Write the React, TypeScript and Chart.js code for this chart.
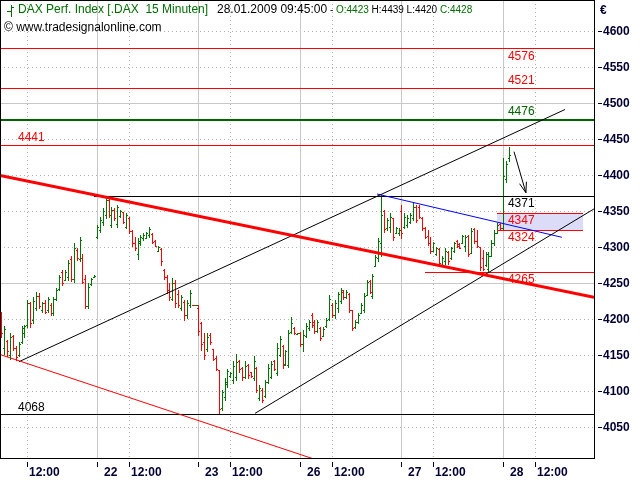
import React, { useEffect, useRef } from "react";
import { Chart, registerables } from "chart.js";

Chart.register(...registerables);

// ---------- data ----------
const DAY_LABELS = ["21", "22", "23", "26", "27", "28"];
const TIME_LABEL = "12:00";
const BARS_PER_DAY = 35; // 15-minute bars 09:15 .. 17:45
const NOON_BAR = 11; // bar index of 12:00 within a day
const FIRST_BAR_21 = 2; // first visible bar on 21 Jan

// [open, high, low, close]
const D21 = [
  [4208, 4210, 4175, 4180], [4160, 4190, 4152, 4186], [4170, 4171, 4148, 4155], [4150, 4180, 4145, 4175],
  [4176, 4178, 4157, 4160], [4160, 4162, 4143, 4147], [4150, 4168, 4148, 4165], [4168, 4190, 4166, 4188],
  [4180, 4192, 4175, 4190], [4192, 4226, 4189, 4222], [4222, 4224, 4189, 4195], [4198, 4231, 4194, 4225],
  [4215, 4238, 4213, 4232], [4232, 4236, 4215, 4218], [4212, 4224, 4210, 4222], [4222, 4226, 4208, 4210],
  [4212, 4231, 4210, 4228], [4220, 4222, 4206, 4208], [4208, 4231, 4206, 4228], [4228, 4243, 4226, 4240],
  [4242, 4261, 4240, 4258], [4265, 4268, 4247, 4250], [4254, 4268, 4254, 4265], [4258, 4282, 4254, 4278],
  [4284, 4287, 4253, 4256], [4256, 4305, 4252, 4298], [4296, 4298, 4282, 4285], [4284, 4314, 4280, 4310],
  [4285, 4290, 4250, 4252], [4255, 4261, 4215, 4218], [4218, 4250, 4215, 4245], [4248, 4257, 4247, 4255],
  [4259, 4261, 4259, 4260],
];
const D22 = [
  [4314, 4331, 4312, 4328], [4324, 4342, 4321, 4338], [4335, 4354, 4331, 4350], [4345, 4370, 4340, 4365],
  [4365, 4367, 4342, 4345], [4330, 4356, 4328, 4352], [4352, 4354, 4338, 4340], [4332, 4358, 4328, 4355],
  [4343, 4351, 4342, 4350], [4348, 4349, 4333, 4335], [4328, 4347, 4326, 4344], [4340, 4342, 4319, 4322],
  [4322, 4324, 4301, 4305], [4305, 4314, 4296, 4298], [4290, 4312, 4284, 4308], [4305, 4317, 4303, 4314],
  [4312, 4319, 4310, 4317], [4313, 4321, 4312, 4319], [4316, 4328, 4314, 4325], [4318, 4319, 4305, 4307],
  [4308, 4310, 4301, 4302], [4295, 4301, 4294, 4300], [4297, 4298, 4275, 4280], [4268, 4270, 4256, 4258],
  [4258, 4261, 4236, 4240], [4240, 4250, 4226, 4230], [4228, 4257, 4226, 4250], [4250, 4254, 4217, 4222],
  [4235, 4240, 4217, 4220], [4215, 4233, 4213, 4230], [4224, 4226, 4199, 4205], [4205, 4226, 4201, 4222],
  [4220, 4240, 4217, 4236], [4220, 4220, 4219, 4219], [4219, 4220, 4219, 4219],
];
const D23 = [
  [4215, 4219, 4178, 4183], [4195, 4196, 4157, 4165], [4168, 4180, 4145, 4150], [4158, 4180, 4155, 4175],
  [4178, 4180, 4165, 4168], [4158, 4159, 4143, 4145], [4146, 4148, 4129, 4131], [4129, 4129, 4069, 4075],
  [4076, 4101, 4074, 4098], [4092, 4118, 4088, 4112], [4110, 4131, 4106, 4128], [4121, 4127, 4120, 4125],
  [4115, 4141, 4111, 4135], [4120, 4152, 4115, 4140], [4141, 4143, 4127, 4130], [4132, 4134, 4115, 4120],
  [4120, 4141, 4118, 4135], [4136, 4138, 4118, 4122], [4126, 4127, 4120, 4121], [4118, 4148, 4115, 4142],
  [4132, 4134, 4099, 4102], [4090, 4108, 4088, 4104], [4102, 4104, 4085, 4088], [4093, 4115, 4092, 4112],
  [4113, 4138, 4111, 4132], [4120, 4141, 4118, 4138], [4141, 4143, 4129, 4131], [4125, 4166, 4122, 4160],
  [4150, 4176, 4148, 4172], [4162, 4164, 4132, 4136], [4138, 4157, 4136, 4155], [4136, 4185, 4134, 4180],
  [4182, 4203, 4180, 4195], [4188, 4189, 4179, 4180], [4179, 4180, 4179, 4180],
];
const D26 = [
  [4180, 4182, 4162, 4165], [4165, 4185, 4155, 4178], [4176, 4194, 4175, 4190], [4188, 4199, 4185, 4196],
  [4205, 4208, 4189, 4192], [4196, 4199, 4180, 4184], [4184, 4199, 4182, 4196], [4188, 4189, 4171, 4174],
  [4177, 4189, 4176, 4186], [4190, 4201, 4189, 4199], [4200, 4233, 4199, 4228], [4220, 4222, 4203, 4205],
  [4205, 4226, 4202, 4222], [4215, 4238, 4210, 4235], [4225, 4243, 4222, 4240], [4238, 4240, 4228, 4230],
  [4230, 4240, 4229, 4238], [4235, 4236, 4210, 4212], [4212, 4213, 4185, 4188], [4189, 4199, 4187, 4196],
  [4196, 4208, 4194, 4205], [4208, 4222, 4208, 4220], [4212, 4236, 4210, 4232], [4234, 4254, 4233, 4252],
  [4253, 4254, 4236, 4238], [4232, 4263, 4229, 4260], [4274, 4289, 4273, 4286], [4285, 4312, 4280, 4308],
  [4305, 4372, 4287, 4345], [4350, 4352, 4321, 4325], [4326, 4340, 4324, 4338], [4328, 4347, 4321, 4342],
  [4340, 4340, 4310, 4314], [4320, 4328, 4319, 4326], [4319, 4326, 4317, 4324],
];
const D27 = [
  [4350, 4358, 4312, 4320], [4328, 4347, 4326, 4342], [4330, 4345, 4328, 4340], [4335, 4347, 4333, 4345],
  [4340, 4361, 4338, 4356], [4356, 4358, 4335, 4338], [4355, 4358, 4340, 4342], [4340, 4342, 4324, 4326],
  [4327, 4328, 4312, 4314], [4315, 4324, 4303, 4305], [4306, 4314, 4291, 4294], [4295, 4307, 4294, 4305],
  [4290, 4300, 4289, 4298], [4297, 4298, 4275, 4278], [4275, 4287, 4273, 4285], [4280, 4298, 4277, 4295],
  [4293, 4294, 4277, 4280], [4285, 4300, 4284, 4298], [4295, 4307, 4293, 4305], [4308, 4310, 4300, 4302],
  [4304, 4305, 4298, 4299], [4306, 4317, 4305, 4315], [4302, 4317, 4294, 4314], [4315, 4317, 4287, 4290],
  [4292, 4326, 4291, 4322], [4325, 4326, 4305, 4308], [4308, 4324, 4300, 4302], [4300, 4300, 4268, 4272],
  [4285, 4296, 4268, 4270], [4275, 4293, 4273, 4290], [4270, 4293, 4266, 4288], [4288, 4310, 4287, 4306],
  [4305, 4324, 4303, 4320], [4320, 4333, 4319, 4330], [4332, 4333, 4324, 4326],
];
const D28 = [
  [4326, 4423, 4324, 4398], [4395, 4419, 4390, 4415], [4423, 4439, 4420, 4428],
];
const DAY_BARS = [D21, D22, D23, D26, D27, D28];

const Y_TICKS = [4050, 4100, 4150, 4200, 4250, 4300, 4350, 4400, 4450, 4500, 4550, 4600];
const X_MIN = 1.552;
const X_MAX = 206.38;
const Y_MIN = 4006.94;
const Y_MAX = 4643.06;

// horizontal levels: value and the bar index where the line begins
const LEVEL_VALUES = [4576, 4521, 4476, 4441, 4371, 4265, 4068];
const LEVEL_START = [X_MIN, X_MIN, X_MIN, X_MIN, 33.97, 148.1, X_MIN];
const BOX_VALUES = [4347, 4324];
const BOX_RANGE = [172.9, 202.6];

// trend lines [bar index, price]
const TREND_MAIN = [[1.552, 4399.3], [206.38, 4230.1]];
const TREND_LOWER = [[1.552, 4150.7], [113.9, 4000]];
const CHANNEL_UPPER = [[8.1, 4140.7], [196.4, 4491]];
const CHANNEL_LOWER = [[89.5, 4069], [206.38, 4352.9]];
const RESIST_BLUE = [[131.55, 4373.6], [195.3, 4313.5]];
const ARROW = [[178.8, 4432.4], [182.9, 4375.4]];

const SYMBOL_NAME = "DAX Perf. Index [.DAX  15 Minuten]";
const TIMESTAMP = "28.01.2009 09:45:00";
const COPYRIGHT = "\u00a9 www.tradesignalonline.com";
const CURRENCY = "\u20ac";

// ---------- styles ----------
const FONT = "'Liberation Sans', Arial, sans-serif";
const BAR_GREEN = "#007400";
const BAR_RED = "#ff0000";
const TXT_GREEN = "#006e00";
const AXIS_TXT = "#000033";
const LEVEL_STYLE = [
  { color: "#ff0000", width: 1, label: "right", dy: 8 },
  { color: "#ff0000", width: 1, label: "right", dy: -8 },
  { color: "#006400", width: 2, label: "right", dy: -9, text: "#006400" },
  { color: "#ff0000", width: 1, label: "left", dy: -8 },
  { color: "#000000", width: 1, label: "right", dy: 7 },
  { color: "#ff0000", width: 1, label: "right", dy: 7 },
  { color: "#000000", width: 1, label: "left", dy: -7 },
];
const BOX_STYLE = { fill: "#dcdcf8", color: "#ff0000", dy: [7, 7] };

const barIndex = (d: number, k: number) => d * BARS_PER_DAY + (d === 0 ? FIRST_BAR_21 : 0) + k;

const decor = {
  id: "decor",
  beforeDatasetsDraw(chart: any) {
    const { ctx, chartArea: a, scales } = chart;
    const xs = scales.x;
    const ys = scales.y;
    ctx.save();
    ctx.beginPath();
    ctx.rect(a.left, a.top, a.right - a.left, a.bottom - a.top);
    ctx.clip();

    // grid
    ctx.lineWidth = 1;
    Y_TICKS.forEach((v) => {
      const py = Math.round(ys.getPixelForValue(v)) + 0.5;
      const solid = v % 250 === 0;
      ctx.strokeStyle = solid ? "#c8c8c8" : "#b0b0b0";
      ctx.setLineDash(solid ? [] : [1, 3]);
      ctx.beginPath();
      ctx.moveTo(a.left, py);
      ctx.lineTo(a.right, py);
      ctx.stroke();
    });
    DAY_LABELS.forEach((_, d) => {
      const b = d * BARS_PER_DAY;
      const n = b + NOON_BAR;
      [b, n].forEach((idx, i) => {
        if (idx < X_MIN || idx > X_MAX) return;
        const px = Math.round(xs.getPixelForValue(idx)) + 0.5;
        ctx.strokeStyle = i === 0 ? "#c8c8c8" : "#b0b0b0";
        ctx.setLineDash(i === 0 ? [] : [1, 3]);
        ctx.beginPath();
        ctx.moveTo(px, a.top);
        ctx.lineTo(px, a.bottom);
        ctx.stroke();
      });
    });
    ctx.setLineDash([]);

    // box
    const bx1 = Math.round(xs.getPixelForValue(BOX_RANGE[0]));
    const bx2 = Math.round(xs.getPixelForValue(BOX_RANGE[1]));
    const by1 = Math.round(ys.getPixelForValue(BOX_VALUES[0]));
    const by2 = Math.round(ys.getPixelForValue(BOX_VALUES[1]));
    ctx.fillStyle = BOX_STYLE.fill;
    ctx.fillRect(bx1, by1, bx2 - bx1, by2 - by1);

    // OHLC bars
    DAY_BARS.forEach((bars, d) => {
      bars.forEach(([o, h, l, c], k) => {
        const px = Math.round(xs.getPixelForValue(barIndex(d, k)));
        const yh = Math.round(ys.getPixelForValue(h));
        const yl = Math.round(ys.getPixelForValue(l));
        const yo = Math.round(ys.getPixelForValue(o));
        const yc = Math.round(ys.getPixelForValue(c));
        ctx.fillStyle = c >= o ? BAR_GREEN : BAR_RED;
        ctx.fillRect(px, yh, 1, Math.max(1, yl - yh + 1));
        ctx.fillRect(px - 1, yo, 1, 1);
        ctx.fillRect(px + 1, yc, 1, 1);
      });
    });

    // horizontal levels
    LEVEL_VALUES.forEach((v, i) => {
      const st = LEVEL_STYLE[i];
      const x1 = Math.round(xs.getPixelForValue(LEVEL_START[i]));
      const x2 = Math.round(a.right);
      const py = Math.round(ys.getPixelForValue(v));
      ctx.fillStyle = st.color;
      ctx.fillRect(x1, st.width === 2 ? py - 1 : py, x2 - x1, st.width);
    });
    ctx.fillStyle = BOX_STYLE.color;
    ctx.fillRect(bx1, by1, bx2 - bx1, 1);
    ctx.fillRect(bx1, by2, bx2 - bx1, 1);
    ctx.restore();
  },
  afterDatasetsDraw(chart: any) {
    const { ctx, chartArea: a, scales } = chart;
    const xs = scales.x;
    const ys = scales.y;
    ctx.save();

    // arrow head
    const tx = xs.getPixelForValue(ARROW[1][0]);
    const ty = ys.getPixelForValue(ARROW[1][1]);
    const sx = xs.getPixelForValue(ARROW[0][0]);
    const sy = ys.getPixelForValue(ARROW[0][1]);
    const ang = Math.atan2(ty - sy, tx - sx);
    ctx.strokeStyle = "#000";
    ctx.lineWidth = 1;
    ctx.beginPath();
    [-0.33, 0.33].forEach((da) => {
      ctx.moveTo(tx, ty);
      ctx.lineTo(tx - 11 * Math.cos(ang + da), ty - 11 * Math.sin(ang + da));
    });
    ctx.stroke();

    // level labels
    ctx.font = `12px ${FONT}`;
    ctx.textBaseline = "middle";
    ctx.textAlign = "left";
    const rightX = xs.getPixelForValue(176.7);
    const leftX = xs.getPixelForValue(7.76);
    LEVEL_VALUES.forEach((v, i) => {
      const st: any = LEVEL_STYLE[i];
      ctx.fillStyle = st.text || st.color;
      const py = Math.round(ys.getPixelForValue(v)) + st.dy;
      ctx.fillText(String(v), st.label === "left" ? leftX : rightX, py + 0.5);
    });
    BOX_VALUES.forEach((v, i) => {
      ctx.fillStyle = BOX_STYLE.color;
      const py = Math.round(ys.getPixelForValue(v)) + BOX_STYLE.dy[i];
      ctx.fillText(String(v), rightX, py + 0.5);
    });

    // header
    const last = D28[D28.length - 1];
    ctx.fillStyle = TXT_GREEN;
    ctx.fillRect(11, 5, 1, 12);
    ctx.fillRect(7, 11, 4, 1);
    ctx.fillRect(12, 7, 2, 1);
    ctx.fillText(SYMBOL_NAME, 18, 10);
    ctx.fillStyle = "#000000";
    ctx.fillText(TIMESTAMP, 217, 10);
    let hx = 217 + ctx.measureText(TIMESTAMP).width;
    ctx.font = `10px ${FONT}`;
    const parts: [string, string][] = [
      [" - ", "#000000"],
      [`O:${last[0]}`, TXT_GREEN],
      [` H:${last[1]} L:${last[2]} `, "#000000"],
      [`C:${last[3]}`, TXT_GREEN],
    ];
    parts.forEach(([t, col]) => {
      ctx.fillStyle = col;
      ctx.fillText(t, hx, 10.5);
      hx += ctx.measureText(t).width;
    });
    ctx.font = `12px ${FONT}`;
    ctx.fillStyle = "#000000";
    ctx.fillText(COPYRIGHT, 4, 28);

    // border
    ctx.strokeStyle = "#000";
    ctx.lineWidth = 1;
    ctx.strokeRect(a.left + 0.5, a.top + 0.5, a.right - a.left, a.bottom - a.top);

    // y axis (right)
    ctx.font = `bold 12px ${FONT}`;
    ctx.fillStyle = AXIS_TXT;
    Y_TICKS.forEach((v) => {
      const py = Math.round(ys.getPixelForValue(v));
      ctx.fillRect(a.right + 4, py, 4, 1);
      ctx.fillText(String(v), a.right + 9, py + 1);
    });
    ctx.fillText(CURRENCY, a.right + 6, 11);

    // x axis (bottom)
    ctx.textBaseline = "alphabetic";
    DAY_LABELS.forEach((lab, d) => {
      const b = d * BARS_PER_DAY;
      const n = b + NOON_BAR;
      if (b >= X_MIN && b <= X_MAX) {
        const px = Math.round(xs.getPixelForValue(b));
        ctx.fillRect(px, a.bottom + 4, 1, 5);
        ctx.fillText(lab, px + 7, a.bottom + 18);
      }
      if (n >= X_MIN && n <= X_MAX) {
        const px = Math.round(xs.getPixelForValue(n));
        ctx.fillRect(px, a.bottom + 4, 1, 5);
        ctx.fillText(TIME_LABEL, px + 2, a.bottom + 18);
      }
    });
    ctx.restore();
  },
};

const lineSet = (pts: number[][], color: string, width: number) => ({
  data: pts.map(([i, p]) => ({ x: i, y: p })),
  showLine: true,
  borderColor: color,
  backgroundColor: color,
  borderWidth: width,
  pointRadius: 0,
  pointHoverRadius: 0,
  tension: 0,
  fill: false,
});

export default function App() {
  const ref = useRef<HTMLCanvasElement | null>(null);
  useEffect(() => {
    document.body.style.margin = "0";
    const canvas = ref.current;
    if (!canvas) return;
    const chart = new Chart(canvas, {
      type: "scatter",
      data: {
        datasets: [
          lineSet(TREND_MAIN, "#ff0000", 3),
          lineSet(TREND_LOWER, "#ff0000", 1),
          lineSet(CHANNEL_UPPER, "#000000", 1),
          lineSet(CHANNEL_LOWER, "#000000", 1),
          lineSet(RESIST_BLUE, "#0000ff", 1),
          lineSet(ARROW, "#000000", 1),
        ] as any,
      },
      options: {
        animation: false,
        responsive: false,
        devicePixelRatio: 1,
        events: [],
        layout: { padding: { left: 0, top: 0, right: 46, bottom: 22 } },
        plugins: { legend: { display: false }, tooltip: { enabled: false } },
        scales: {
          x: { type: "linear", min: X_MIN, max: X_MAX, display: false },
          y: { type: "linear", min: Y_MIN, max: Y_MAX, display: false },
        },
      } as any,
      plugins: [decor],
    });
    return () => chart.destroy();
  }, []);
  return (
    <div style={{ position: "absolute", left: 0, top: 0, width: 640, height: 480, background: "#fff" }}>
      <canvas ref={ref} width={640} height={480} style={{ display: "block" }} />
    </div>
  );
}
